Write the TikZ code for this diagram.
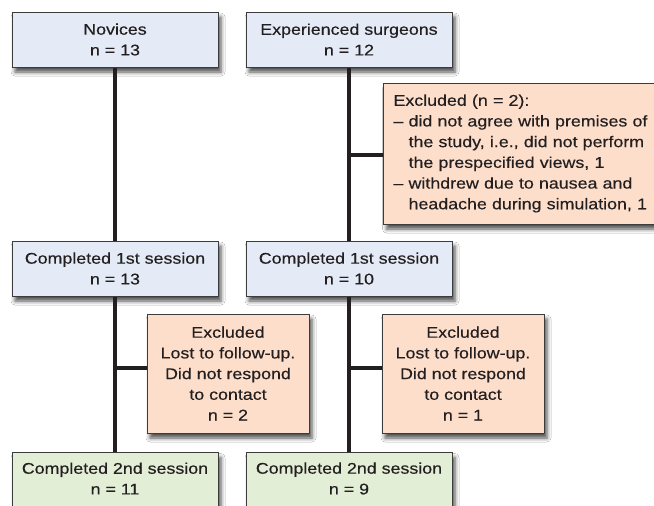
\documentclass[tikz,border=0pt]{standalone}
\usepackage{fontspec}
\setmainfont{Liberation Sans}[FakeStretch=1.15, FakeBold=0.35]
\usetikzlibrary{shadows.blur}
\definecolor{ink}{HTML}{231F20}
\definecolor{boxline}{HTML}{3C3C3C}
\definecolor{bluefill}{HTML}{E4EBF6}
\definecolor{orangefill}{HTML}{FCDECB}
\definecolor{greenfill}{HTML}{E2EED6}
\begin{document}
\begin{tikzpicture}[x=1pt,y=-1pt,
  txt/.style={align=center, inner sep=0pt, text=ink, font=\fontsize{15.5}{20.7}\selectfont},
  box/.style={txt, draw=boxline, line width=1pt,
    blur shadow={shadow xshift=3pt, shadow yshift=-5pt, shadow blur radius=4pt, shadow opacity=70}},
  bluebox/.style={box, fill=bluefill, minimum width=206pt, minimum height=55pt},
  orangebox/.style={box, fill=orangefill},
  greenbox/.style={box, fill=greenfill, minimum width=206pt},
  conn/.style={draw=ink, line width=3.4pt}]
\useasboundingbox (0,0) rectangle (654,506);
\clip (0,0) rectangle (654,506);
\fill[white] (0,0) rectangle (654,506);
% top row
\node[bluebox] (nov) at (115,39.5) {Novices\\n = 13};
\node[bluebox] (exp) at (349,39.5) {Experienced surgeons\\n = 12};
% first exclusion
\node[orangebox, anchor=west, align=left, text width=257pt, inner xsep=10pt, minimum height=141pt] (ex1) at (383,153.5)
  {Excluded (n = 2):\\
   – did not agree with premises of\\
   \phantom{– }the study, i.e., did not perform\\
   \phantom{– }the prespecified views, 1\\
   – withdrew due to nausea and\\
   \phantom{– }headache during simulation, 1};
% first session
\node[bluebox] (c1l) at (115,268.5) {Completed 1st session\\n = 13};
\node[bluebox] (c1r) at (349,268.5) {Completed 1st session\\n = 10};
% lost to follow-up
\node[orangebox, minimum width=162pt, minimum height=119pt] (exl) at (228,373.5)
  {Excluded\\Lost to follow-up.\\Did not respond\\to contact\\n = 2};
\node[orangebox, minimum width=162pt, minimum height=119pt] (exr) at (463,373.5)
  {Excluded\\Lost to follow-up.\\Did not respond\\to contact\\n = 1};
% second session
\node[greenbox, anchor=north, minimum height=80pt] (c2l) at (115,452) {};
\node[greenbox, anchor=north, minimum height=80pt] (c2r) at (349,452) {};
\node[txt] (c2lt) at (115,478.5) {Completed 2nd session\\n = 11};
\node[txt] (c2rt) at (349,478.5) {Completed 2nd session\\n = 9};
% connectors
\draw[conn] (nov.south) -- (c1l.north);
\draw[conn] (exp.south) -- (c1r.north);
\draw[conn] ([yshift=-1.5pt]ex1.west) -- ([yshift=-1.5pt]ex1.west -| exp.south);
\draw[conn] (c1l.south) -- (c2l.north);
\draw[conn] (c1r.south) -- (c2r.north);
\draw[conn] ([yshift=5.5pt]exl.west) -- ([yshift=5.5pt]exl.west -| c1l.south);
\draw[conn] ([yshift=5.5pt]exr.west) -- ([yshift=5.5pt]exr.west -| c1r.south);
\end{tikzpicture}
\end{document}
